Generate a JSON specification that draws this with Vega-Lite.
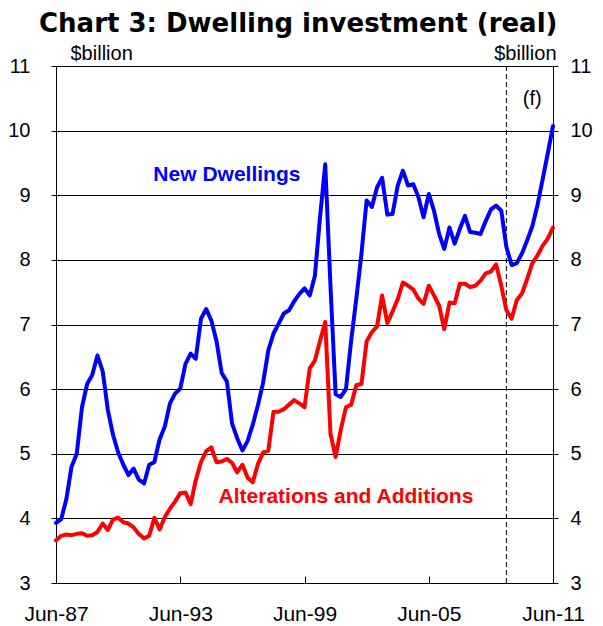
{
  "$schema": "https://vega.github.io/schema/vega-lite/v6.json",
  "width": 497,
  "height": 517,
  "autosize": "none",
  "padding": {"left": 56, "top": 66, "right": 50, "bottom": 43},
  "background": "white",
  "title": {"text": "Chart 3: Dwelling investment (real)", "font": "DejaVu Sans", "fontSize": 26, "fontWeight": "bold", "color": "black", "anchor": "start", "frame": "group", "dx": -17, "dy": 4, "offset": 10},
  "config": {
    "view": {"stroke": "black", "strokeWidth": 1},
    "axis": {"labelFont": "Liberation Sans", "labelFontSize": 20, "labelColor": "black", "titleFont": "Liberation Sans", "titleFontSize": 20, "titleFontWeight": "normal", "titleColor": "black", "tickColor": "black", "domain": false}
  },
  "datasets": {
    "main": [
      {"quarter": "1987-06-01", "new_dwellings": 3.93, "alterations_additions": 3.66},
      {"quarter": "1987-09-01", "new_dwellings": 3.99, "alterations_additions": 3.73},
      {"quarter": "1987-12-01", "new_dwellings": 4.30, "alterations_additions": 3.75},
      {"quarter": "1988-03-01", "new_dwellings": 4.80, "alterations_additions": 3.74},
      {"quarter": "1988-06-01", "new_dwellings": 5.00, "alterations_additions": 3.76},
      {"quarter": "1988-09-01", "new_dwellings": 5.72, "alterations_additions": 3.77},
      {"quarter": "1988-12-01", "new_dwellings": 6.08, "alterations_additions": 3.73},
      {"quarter": "1989-03-01", "new_dwellings": 6.22, "alterations_additions": 3.74},
      {"quarter": "1989-06-01", "new_dwellings": 6.52, "alterations_additions": 3.79},
      {"quarter": "1989-09-01", "new_dwellings": 6.28, "alterations_additions": 3.92},
      {"quarter": "1989-12-01", "new_dwellings": 5.68, "alterations_additions": 3.82},
      {"quarter": "1990-03-01", "new_dwellings": 5.30, "alterations_additions": 3.98},
      {"quarter": "1990-06-01", "new_dwellings": 5.02, "alterations_additions": 4.01},
      {"quarter": "1990-09-01", "new_dwellings": 4.83, "alterations_additions": 3.94},
      {"quarter": "1990-12-01", "new_dwellings": 4.67, "alterations_additions": 3.92},
      {"quarter": "1991-03-01", "new_dwellings": 4.77, "alterations_additions": 3.86},
      {"quarter": "1991-06-01", "new_dwellings": 4.60, "alterations_additions": 3.76},
      {"quarter": "1991-09-01", "new_dwellings": 4.54, "alterations_additions": 3.69},
      {"quarter": "1991-12-01", "new_dwellings": 4.83, "alterations_additions": 3.73},
      {"quarter": "1992-03-01", "new_dwellings": 4.87, "alterations_additions": 4.01},
      {"quarter": "1992-06-01", "new_dwellings": 5.22, "alterations_additions": 3.83},
      {"quarter": "1992-09-01", "new_dwellings": 5.42, "alterations_additions": 4.02},
      {"quarter": "1992-12-01", "new_dwellings": 5.78, "alterations_additions": 4.15},
      {"quarter": "1993-03-01", "new_dwellings": 5.93, "alterations_additions": 4.26},
      {"quarter": "1993-06-01", "new_dwellings": 6.01, "alterations_additions": 4.39},
      {"quarter": "1993-09-01", "new_dwellings": 6.39, "alterations_additions": 4.40},
      {"quarter": "1993-12-01", "new_dwellings": 6.55, "alterations_additions": 4.22},
      {"quarter": "1994-03-01", "new_dwellings": 6.47, "alterations_additions": 4.59},
      {"quarter": "1994-06-01", "new_dwellings": 7.09, "alterations_additions": 4.87},
      {"quarter": "1994-09-01", "new_dwellings": 7.24, "alterations_additions": 5.04},
      {"quarter": "1994-12-01", "new_dwellings": 7.06, "alterations_additions": 5.10},
      {"quarter": "1995-03-01", "new_dwellings": 6.75, "alterations_additions": 4.87},
      {"quarter": "1995-06-01", "new_dwellings": 6.25, "alterations_additions": 4.88},
      {"quarter": "1995-09-01", "new_dwellings": 6.12, "alterations_additions": 4.92},
      {"quarter": "1995-12-01", "new_dwellings": 5.47, "alterations_additions": 4.86},
      {"quarter": "1996-03-01", "new_dwellings": 5.24, "alterations_additions": 4.71},
      {"quarter": "1996-06-01", "new_dwellings": 5.05, "alterations_additions": 4.83},
      {"quarter": "1996-09-01", "new_dwellings": 5.20, "alterations_additions": 4.63},
      {"quarter": "1996-12-01", "new_dwellings": 5.45, "alterations_additions": 4.56},
      {"quarter": "1997-03-01", "new_dwellings": 5.75, "alterations_additions": 4.84},
      {"quarter": "1997-06-01", "new_dwellings": 6.10, "alterations_additions": 5.02},
      {"quarter": "1997-09-01", "new_dwellings": 6.60, "alterations_additions": 5.05},
      {"quarter": "1997-12-01", "new_dwellings": 6.86, "alterations_additions": 5.65},
      {"quarter": "1998-03-01", "new_dwellings": 7.01, "alterations_additions": 5.65},
      {"quarter": "1998-06-01", "new_dwellings": 7.17, "alterations_additions": 5.69},
      {"quarter": "1998-09-01", "new_dwellings": 7.22, "alterations_additions": 5.76},
      {"quarter": "1998-12-01", "new_dwellings": 7.36, "alterations_additions": 5.83},
      {"quarter": "1999-03-01", "new_dwellings": 7.47, "alterations_additions": 5.78},
      {"quarter": "1999-06-01", "new_dwellings": 7.56, "alterations_additions": 5.72},
      {"quarter": "1999-09-01", "new_dwellings": 7.45, "alterations_additions": 6.32},
      {"quarter": "1999-12-01", "new_dwellings": 7.75, "alterations_additions": 6.44},
      {"quarter": "2000-03-01", "new_dwellings": 8.66, "alterations_additions": 6.75},
      {"quarter": "2000-06-01", "new_dwellings": 9.48, "alterations_additions": 7.04},
      {"quarter": "2000-09-01", "new_dwellings": 7.60, "alterations_additions": 5.31},
      {"quarter": "2000-12-01", "new_dwellings": 5.92, "alterations_additions": 4.95},
      {"quarter": "2001-03-01", "new_dwellings": 5.88, "alterations_additions": 5.37},
      {"quarter": "2001-06-01", "new_dwellings": 6.00, "alterations_additions": 5.72},
      {"quarter": "2001-09-01", "new_dwellings": 6.75, "alterations_additions": 5.76},
      {"quarter": "2001-12-01", "new_dwellings": 7.40, "alterations_additions": 6.06},
      {"quarter": "2002-03-01", "new_dwellings": 8.09, "alterations_additions": 6.08},
      {"quarter": "2002-06-01", "new_dwellings": 8.92, "alterations_additions": 6.74},
      {"quarter": "2002-09-01", "new_dwellings": 8.82, "alterations_additions": 6.88},
      {"quarter": "2002-12-01", "new_dwellings": 9.12, "alterations_additions": 6.97},
      {"quarter": "2003-03-01", "new_dwellings": 9.27, "alterations_additions": 7.45},
      {"quarter": "2003-06-01", "new_dwellings": 8.70, "alterations_additions": 7.02},
      {"quarter": "2003-09-01", "new_dwellings": 8.71, "alterations_additions": 7.20},
      {"quarter": "2003-12-01", "new_dwellings": 9.15, "alterations_additions": 7.39},
      {"quarter": "2004-03-01", "new_dwellings": 9.38, "alterations_additions": 7.65},
      {"quarter": "2004-06-01", "new_dwellings": 9.15, "alterations_additions": 7.60},
      {"quarter": "2004-09-01", "new_dwellings": 9.17, "alterations_additions": 7.54},
      {"quarter": "2004-12-01", "new_dwellings": 8.97, "alterations_additions": 7.40},
      {"quarter": "2005-03-01", "new_dwellings": 8.66, "alterations_additions": 7.32},
      {"quarter": "2005-06-01", "new_dwellings": 9.02, "alterations_additions": 7.60},
      {"quarter": "2005-09-01", "new_dwellings": 8.76, "alterations_additions": 7.45},
      {"quarter": "2005-12-01", "new_dwellings": 8.40, "alterations_additions": 7.29},
      {"quarter": "2006-03-01", "new_dwellings": 8.17, "alterations_additions": 6.93},
      {"quarter": "2006-06-01", "new_dwellings": 8.50, "alterations_additions": 7.34},
      {"quarter": "2006-09-01", "new_dwellings": 8.25, "alterations_additions": 7.33},
      {"quarter": "2006-12-01", "new_dwellings": 8.48, "alterations_additions": 7.63},
      {"quarter": "2007-03-01", "new_dwellings": 8.68, "alterations_additions": 7.63},
      {"quarter": "2007-06-01", "new_dwellings": 8.43, "alterations_additions": 7.58},
      {"quarter": "2007-09-01", "new_dwellings": 8.42, "alterations_additions": 7.60},
      {"quarter": "2007-12-01", "new_dwellings": 8.40, "alterations_additions": 7.68},
      {"quarter": "2008-03-01", "new_dwellings": 8.60, "alterations_additions": 7.79},
      {"quarter": "2008-06-01", "new_dwellings": 8.78, "alterations_additions": 7.82},
      {"quarter": "2008-09-01", "new_dwellings": 8.84, "alterations_additions": 7.93},
      {"quarter": "2008-12-01", "new_dwellings": 8.76, "alterations_additions": 7.60},
      {"quarter": "2009-03-01", "new_dwellings": 8.20, "alterations_additions": 7.22},
      {"quarter": "2009-06-01", "new_dwellings": 7.92, "alterations_additions": 7.09},
      {"quarter": "2009-09-01", "new_dwellings": 7.95, "alterations_additions": 7.38},
      {"quarter": "2009-12-01", "new_dwellings": 8.10, "alterations_additions": 7.48},
      {"quarter": "2010-03-01", "new_dwellings": 8.30, "alterations_additions": 7.70},
      {"quarter": "2010-06-01", "new_dwellings": 8.52, "alterations_additions": 7.95},
      {"quarter": "2010-09-01", "new_dwellings": 8.85, "alterations_additions": 8.07},
      {"quarter": "2010-12-01", "new_dwellings": 9.25, "alterations_additions": 8.22},
      {"quarter": "2011-03-01", "new_dwellings": 9.65, "alterations_additions": 8.33},
      {"quarter": "2011-06-01", "new_dwellings": 10.07, "alterations_additions": 8.50}
    ],
    "forecast": [{"quarter": "2009-03-01"}],
    "series_labels": [
      {"quarter": "1995-09-01", "value": 9.32, "label": "New Dwellings", "series": "new_dwellings"},
      {"quarter": "2001-06-01", "value": 4.33, "label": "Alterations and Additions", "series": "alterations_additions"}
    ],
    "forecast_label": [{"quarter": "2010-06-01", "value": 10.49, "label": "(f)"}]
  },
  "layer": [
    {
      "data": {"name": "forecast"},
      "mark": {"type": "rule", "color": "black", "strokeWidth": 1, "strokeDash": [5, 3]},
      "encoding": {
        "x": {"field": "quarter", "type": "temporal", "scale": {"type": "utc", "domain": [{"year": 1987, "month": 6, "date": 1, "utc": true}, {"year": 2011, "month": 6, "date": 1, "utc": true}]},
          "axis": {"orient": "bottom", "title": null, "format": "%b-%y", "values": [{"year": 1987, "month": 6, "date": 1, "utc": true}, {"year": 1993, "month": 6, "date": 1, "utc": true}, {"year": 1999, "month": 6, "date": 1, "utc": true}, {"year": 2005, "month": 6, "date": 1, "utc": true}, {"year": 2011, "month": 6, "date": 1, "utc": true}], "grid": false, "tickSize": -7, "labelFontSize": 21, "labelPadding": 27, "labelOverlap": false, "labelFlush": false, "labelBound": false}}
      }
    },
    {
      "data": {"name": "main"},
      "transform": [{"fold": ["new_dwellings", "alterations_additions"], "as": ["series", "value"]}],
      "mark": {"type": "line", "strokeWidth": 4, "strokeJoin": "round", "strokeCap": "round"},
      "encoding": {
        "x": {"field": "quarter", "type": "temporal"},
        "y": {"field": "value", "type": "quantitative", "scale": {"domain": [3, 11], "nice": false, "zero": false},
          "axis": {"orient": "left", "values": [3, 4, 5, 6, 7, 8, 9, 10, 11], "grid": true, "gridColor": "black", "gridWidth": 1, "gridOpacity": 1, "tickSize": 5, "labelPadding": 21, "title": "$billion", "titleAngle": 0, "titleAlign": "left", "titleBaseline": "alphabetic", "titleX": 14, "titleY": -7}},
        "color": {"field": "series", "type": "nominal", "scale": {"domain": ["new_dwellings", "alterations_additions"], "range": ["#0000FF", "#FF0000"]}, "legend": null}
      }
    },
    {
      "data": {"name": "series_labels"},
      "mark": {"type": "text", "font": "Liberation Sans", "fontSize": 21, "fontWeight": "bold"},
      "encoding": {
        "x": {"field": "quarter", "type": "temporal"},
        "y": {"field": "value", "type": "quantitative", "axis": null},
        "text": {"field": "label"},
        "color": {"field": "series", "type": "nominal"}
      }
    },
    {
      "data": {"name": "forecast_label"},
      "mark": {"type": "text", "font": "Liberation Sans", "fontSize": 20, "color": "black"},
      "encoding": {
        "x": {"field": "quarter", "type": "temporal"},
        "y": {"field": "value", "type": "quantitative",
          "axis": {"orient": "right", "values": [3, 4, 5, 6, 7, 8, 9, 10, 11], "grid": false, "tickSize": 5, "labelPadding": 12, "title": "$billion", "titleAngle": 0, "titleAlign": "right", "titleBaseline": "alphabetic", "titleX": 3, "titleY": -7}},
        "text": {"field": "label"}
      }
    }
  ],
  "resolve": {"axis": {"y": "independent"}}
}
